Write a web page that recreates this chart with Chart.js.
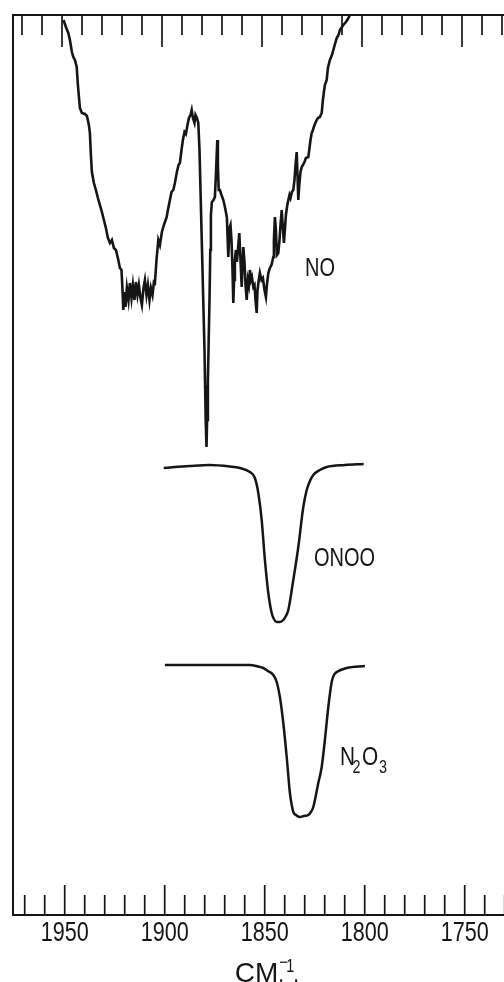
<!DOCTYPE html>
<html>
<head>
<meta charset="utf-8">
<script src="https://cdn.jsdelivr.net/npm/chart.js@4.4.1/dist/chart.umd.min.js"></script>
<style>
  html, body { margin: 0; padding: 0; background: #fff; overflow: hidden; }
  canvas { display: block; }
</style>
</head>
<body>
<canvas id="c" width="504" height="982"></canvas>
<script>
// Wavenumber (cm-1) and relative transmission of the three spectra.
const noWave = [1950.6,1949.4,1948.2,1947.4,1946.4,1945.7,1944.9,1944.0,1943.4,1942.4,1941.4,1939.9,1938.9,1937.9,1937.4,1936.9,1936.4,1935.4,1934.4,1933.4,1932.4,1931.4,1930.4,1929.4,1928.4,1927.4,1926.4,1925.4,1924.4,1923.4,1922.4,1921.6,1921.1,1920.7,1920.1,1919.6,1918.9,1918.1,1917.4,1916.6,1915.9,1915.1,1914.4,1913.6,1912.9,1912.1,1911.4,1910.6,1909.9,1909.1,1908.4,1907.6,1906.9,1906.1,1905.4,1904.9,1904.1,1903.2,1902.4,1901.4,1900.4,1899.0,1898.4,1897.4,1896.6,1895.7,1894.9,1893.9,1893.1,1892.4,1891.6,1890.9,1890.1,1889.4,1888.6,1887.9,1887.1,1886.5,1885.9,1885.1,1884.6,1883.9,1883.2,1882.6,1882.1,1881.6,1881.1,1880.6,1880.1,1879.8,1879.5,1879.1,1878.8,1878.4,1878.0,1877.6,1877.2,1876.9,1876.4,1875.6,1874.9,1874.4,1873.7,1873.4,1873.0,1872.4,1871.6,1870.7,1870.1,1869.4,1868.9,1868.2,1867.6,1867.1,1866.6,1866.1,1865.7,1865.3,1864.9,1864.4,1863.9,1863.4,1862.7,1862.1,1861.5,1861.1,1860.7,1860.1,1859.6,1859.0,1858.4,1857.9,1857.4,1856.9,1856.4,1855.7,1855.1,1854.6,1854.0,1853.6,1853.1,1852.4,1851.6,1850.9,1850.1,1849.4,1848.9,1848.2,1847.4,1846.6,1845.7,1845.4,1844.9,1844.4,1843.9,1843.2,1842.6,1842.1,1841.5,1840.9,1840.4,1839.9,1839.4,1838.7,1838.2,1837.6,1837.1,1836.4,1835.7,1835.1,1834.6,1834.0,1833.6,1833.2,1832.7,1832.1,1831.5,1830.9,1830.1,1829.4,1828.2,1827.6,1827.1,1826.5,1825.9,1825.1,1824.0,1823.4,1822.4,1821.5,1820.9,1820.4,1819.9,1819.0,1818.4,1817.4,1816.4,1815.4,1814.0,1813.1,1812.4,1810.7,1809.4,1808.4,1807.4];
const noTrans = [89.5,88.8,88.2,87.5,86.3,85.8,85.5,84.8,83.0,80.7,80.2,80.1,79.9,79.0,78.2,76.0,74.3,73.2,72.5,71.7,71.0,70.3,69.5,68.7,67.7,67.2,67.5,66.7,66.5,65.7,64.7,64.5,62.5,60.5,62.3,60.8,62.7,61.5,63.2,61.7,63.0,61.5,63.3,62.0,63.0,61.7,61.0,62.7,63.5,62.0,63.0,61.5,62.7,62.0,63.3,63.2,65.5,67.5,67.0,68.3,69.0,69.8,70.5,71.5,72.3,72.5,73.2,74.3,75.0,75.2,76.5,77.5,78.3,78.1,79.0,79.7,80.0,80.5,79.7,79.2,80.0,79.7,79.2,76.5,72.5,68.5,64.5,60.5,56.5,53.0,49.5,46.8,49.5,53.5,57.5,61.5,66.5,70.0,71.3,71.5,71.8,74.0,77.5,75.0,72.5,72.5,72.0,71.5,71.0,70.3,69.7,65.8,68.7,69.0,67.5,64.5,61.2,63.5,65.5,66.5,65.3,66.5,68.2,65.5,62.8,65.0,66.8,65.3,63.0,61.5,63.5,63.0,64.5,63.5,63.8,62.8,63.0,61.5,60.2,62.5,63.3,64.2,63.5,63.7,62.5,61.8,63.0,64.2,64.7,65.0,65.8,67.5,69.8,68.5,66.0,66.2,67.5,69.0,70.5,68.7,67.2,68.5,70.0,71.0,71.5,72.0,71.7,72.3,72.5,73.5,75.0,76.3,74.0,71.5,73.0,74.3,74.8,75.0,75.3,75.7,75.8,76.7,77.5,78.2,78.5,79.0,79.5,79.7,79.8,80.2,81.5,82.3,83.0,83.5,84.7,85.5,86.0,86.7,87.7,88.0,88.5,89.0,89.3,89.6,90.0];

const onooWave = [1900.5,1887.4,1877.4,1867.4,1862.4,1857.4,1854.9,1853.2,1851.5,1849.9,1848.2,1846.5,1845.4,1844.0,1842.4,1840.7,1839.4,1838.2,1835.7,1833.2,1830.7,1829.0,1827.4,1825.7,1822.4,1819.0,1809.9,1800.5];
const onooTrans = [44.7,44.9,45.0,44.85,44.7,44.3,43.7,42.2,39.5,35.5,32.2,30.2,29.6,29.3,29.3,29.5,29.9,30.5,33.5,36.8,40.8,42.5,43.4,44.0,44.5,44.8,45.0,45.1];

const n2o3Wave = [1899.9,1882.4,1857.4,1853.4,1850.7,1848.4,1845.7,1844.0,1842.4,1840.7,1839.0,1837.4,1836.4,1835.7,1834.4,1832.4,1830.4,1828.2,1826.9,1825.7,1823.2,1821.5,1819.9,1818.2,1816.5,1815.4,1814.0,1809.0,1799.9];
const n2o3Trans = [25.0,25.0,25.0,24.85,24.7,24.4,24.0,23.3,21.8,19.2,15.8,12.2,10.9,10.3,10.0,9.8,9.9,10.0,10.3,10.8,13.2,14.8,17.5,20.8,23.3,24.0,24.3,24.7,24.9];

// Numbered wavenumbers on the lower axis.
const tickLabels = [1950, 1900, 1850, 1800, 1750];

const ink = '#151515';
const face = '"Liberation Sans", Arial, sans-serif';
const squeeze = 0.8; // lettering is tall and narrow
const toPoints = (w, t) => w.map((x, i) => ({ x, y: t[i] }));

// Condensed text: draws at (x, y) and returns the advance width.
function narrowText(ctx, text, x, y, size, align) {
  ctx.save();
  ctx.font = size + 'px ' + face;
  ctx.textAlign = align || 'left';
  ctx.textBaseline = 'alphabetic';
  ctx.translate(x, y);
  ctx.scale(squeeze, 1);
  ctx.fillText(text, 0, 0);
  const w = ctx.measureText(text).width * squeeze;
  ctx.restore();
  return w;
}

// Frame (top, left, bottom), inward tick marks every 10 cm-1, long ones every 50.
const spectrumFrame = {
  id: 'spectrumFrame',
  afterDatasetsDraw(chart) {
    const { ctx, chartArea: a, scales } = chart;
    const xb = scales.x, xt = scales.x2;
    const seg = (x1, y1, x2, y2) => { ctx.beginPath(); ctx.moveTo(x1, y1); ctx.lineTo(x2, y2); ctx.stroke(); };
    ctx.save();
    ctx.strokeStyle = ink;
    ctx.lineWidth = 2;
    ctx.beginPath();
    ctx.moveTo(a.right + 2, a.top);
    ctx.lineTo(a.left, a.top);
    ctx.lineTo(a.left, a.bottom);
    ctx.lineTo(a.right + 2, a.bottom);
    ctx.stroke();
    ctx.lineWidth = 1.7;
    for (let v = 1730; v <= 1980; v += 10) {
      const major = v % 50 === 0;
      const pb = xb.getPixelForValue(v);
      if (pb > a.left + 3 && pb < a.right + 1) seg(pb, a.bottom, pb, a.bottom - (major ? 30 : 20));
      const pt = xt.getPixelForValue(v);
      if (pt > a.left + 3 && pt < a.right + 1) seg(pt, a.top, pt, a.top + (major ? 32 : 20));
    }
    ctx.restore();
  }
};

// Tick numbers, species names beside each trace and the axis unit.
const spectrumText = {
  id: 'spectrumText',
  afterDraw(chart) {
    const { ctx, chartArea: a, scales } = chart;
    const xs = scales.x, ys = scales.y;
    const at = (w, t) => [xs.getPixelForValue(w), ys.getPixelForValue(t)];
    ctx.save();
    ctx.fillStyle = ink;

    xs.ticks.forEach(t => {
      narrowText(ctx, String(t.value), xs.getPixelForValue(t.value), a.bottom + 26, 27, 'center');
    });

    let [x, y] = at(1829.85, 63.9);
    narrowText(ctx, 'NO', x, y, 25);

    [x, y] = at(1825.35, 34.9);
    narrowText(ctx, 'ONOO', x, y, 25);

    [x, y] = at(1812.3, 15.0);
    narrowText(ctx, 'N', x, y, 26);
    narrowText(ctx, '2', x + 12.5, y + 8, 18);
    narrowText(ctx, 'O', x + 22, y, 26);
    narrowText(ctx, '3', x + 39, y + 8, 18);

    // axis unit: CM.^-1.
    const cx = xs.getPixelForValue(1850) - 30;
    const by = chart.height;
    ctx.font = '28px ' + face;
    ctx.textAlign = 'left';
    ctx.textBaseline = 'alphabetic';
    ctx.fillText('CM', cx, by);
    const w = ctx.measureText('CM').width;
    narrowText(ctx, '.', cx + w, by, 26);
    narrowText(ctx, '\u2212', cx + w + 1, by - 14, 18);
    narrowText(ctx, '1', cx + w + 8, by - 10, 18);
    narrowText(ctx, '.', cx + w + 15, by, 26);
    ctx.restore();
  }
};

new Chart(document.getElementById('c'), {
  type: 'line',
  data: {
    datasets: [
      { label: 'NO', data: toPoints(noWave, noTrans), borderColor: ink, borderWidth: 2.6,
        pointRadius: 0, tension: 0, fill: false },
      { label: 'ONOO', data: toPoints(onooWave, onooTrans), borderColor: ink, borderWidth: 2.5,
        pointRadius: 0, cubicInterpolationMode: 'monotone', fill: false },
      { label: 'N2O3', data: toPoints(n2o3Wave, n2o3Trans), borderColor: ink, borderWidth: 2.5,
        pointRadius: 0, cubicInterpolationMode: 'monotone', fill: false }
    ]
  },
  options: {
    responsive: false,
    animation: false,
    devicePixelRatio: 1,
    layout: { padding: { left: 13, right: 0, top: 15, bottom: 0 } },
    plugins: { legend: { display: false }, tooltip: { enabled: false } },
    scales: {
      x: {
        type: 'linear', position: 'bottom', reverse: true,
        min: 1730.35, max: 1975.85,
        grid: { display: false }, border: { display: false },
        ticks: { display: false },
        afterBuildTicks: s => { s.ticks = tickLabels.map(v => ({ value: v })); },
        afterFit: s => { s.height = 67; }
      },
      x2: { type: 'linear', position: 'top', display: false, reverse: true, min: 1729, max: 1974.5 },
      y: { type: 'linear', display: false, min: 0, max: 90 }
    }
  },
  plugins: [spectrumFrame, spectrumText]
});
</script>
</body>
</html>
